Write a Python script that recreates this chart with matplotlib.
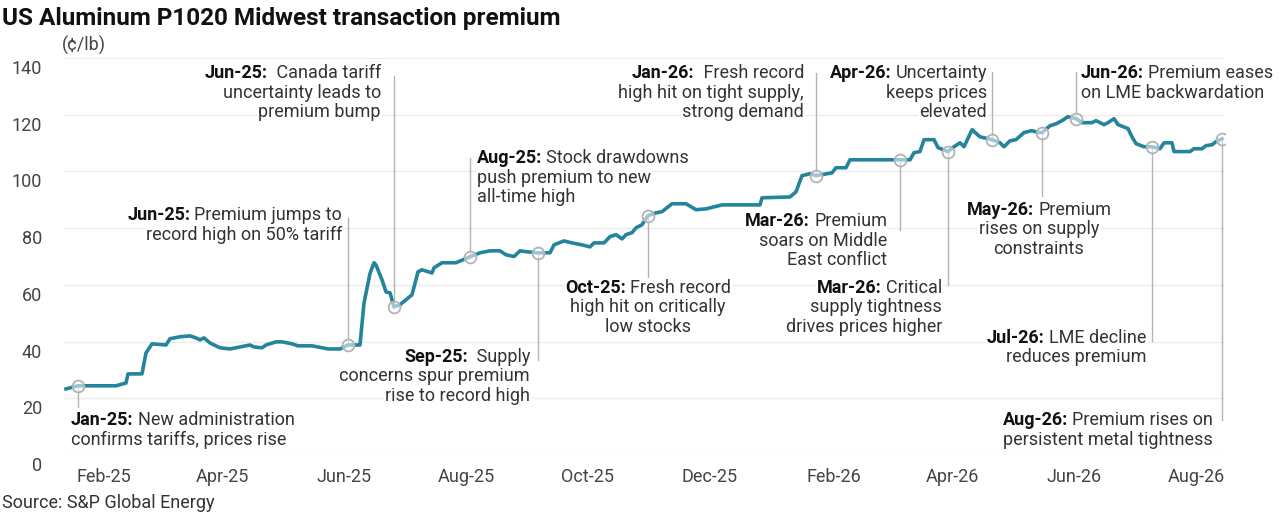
import matplotlib
matplotlib.use("Agg")
import matplotlib.pyplot as plt
import matplotlib.dates as mdates
import matplotlib.transforms as mtransforms
import numpy as np

plt.rcParams['font.family'] = ['Roboto', 'DejaVu Sans']

# weekly-ish premium readings (cents/lb)
dates = ["2025-01-13", "2025-01-19", "2025-02-07", "2025-02-12", "2025-02-13", "2025-02-20",
         "2025-02-22", "2025-02-25", "2025-03-04", "2025-03-06", "2025-03-11", "2025-03-16",
         "2025-03-19", "2025-03-21", "2025-03-23", "2025-03-26", "2025-03-31", "2025-04-05",
         "2025-04-10", "2025-04-15", "2025-04-17", "2025-04-21", "2025-04-23", "2025-04-28",
         "2025-05-01", "2025-05-06", "2025-05-09", "2025-05-16", "2025-05-19", "2025-05-24",
         "2025-05-30", "2025-06-03", "2025-06-09", "2025-06-11", "2025-06-14", "2025-06-16",
         "2025-06-17", "2025-06-20", "2025-06-22", "2025-06-24", "2025-06-26", "2025-06-29",
         "2025-07-05", "2025-07-08", "2025-07-10", "2025-07-15", "2025-07-16", "2025-07-20",
         "2025-07-27", "2025-08-03", "2025-08-08", "2025-08-13", "2025-08-18", "2025-08-21",
         "2025-08-25", "2025-08-28", "2025-08-31", "2025-09-06", "2025-09-12", "2025-09-14",
         "2025-09-19", "2025-09-23", "2025-09-28", "2025-10-02", "2025-10-04", "2025-10-09",
         "2025-10-12", "2025-10-15", "2025-10-18", "2025-10-20", "2025-10-23", "2025-10-25",
         "2025-10-28", "2025-10-31", "2025-11-04", "2025-11-07", "2025-11-12", "2025-11-19",
         "2025-11-24", "2025-11-29", "2025-12-07", "2025-12-26", "2025-12-27", "2026-01-10",
         "2026-01-13", "2026-01-16", "2026-01-20", "2026-01-23", "2026-01-31", "2026-02-02",
         "2026-02-07", "2026-02-09", "2026-03-06", "2026-03-11", "2026-03-13", "2026-03-16",
         "2026-03-18", "2026-03-23", "2026-03-25", "2026-03-30", "2026-04-02", "2026-04-05",
         "2026-04-07", "2026-04-11", "2026-04-15", "2026-04-21", "2026-04-25", "2026-04-27",
         "2026-04-30", "2026-05-03", "2026-05-07", "2026-05-11", "2026-05-14", "2026-05-16",
         "2026-05-20", "2026-05-23", "2026-05-26", "2026-05-29", "2026-06-02", "2026-06-05",
         "2026-06-10", "2026-06-12", "2026-06-16", "2026-06-18", "2026-06-21", "2026-06-23",
         "2026-06-28", "2026-06-30", "2026-07-02", "2026-07-06", "2026-07-10", "2026-07-14",
         "2026-07-16", "2026-07-20", "2026-07-21", "2026-07-29", "2026-07-31", "2026-08-04",
         "2026-08-06", "2026-08-09", "2026-08-11", "2026-08-14"]
premium = [23.3, 24.4, 24.4, 25.4, 28.6, 28.6, 36.0, 39.2, 38.8, 41.0, 41.7, 42.0,
           41.3, 40.6, 41.3, 39.5, 37.8, 37.4, 38.1, 38.8, 38.1, 37.8, 38.8, 39.9,
           39.9, 39.2, 38.5, 38.5, 38.1, 37.4, 37.4, 38.8, 38.8, 53.6, 64.0, 67.8,
           67.0, 61.8, 57.5, 57.2, 52.2, 53.0, 56.5, 64.6, 65.3, 64.2, 66.0, 67.8,
           67.8, 69.9, 71.3, 72.0, 72.0, 70.6, 70.0, 72.0, 71.7, 71.3, 71.3, 74.1,
           75.5, 74.8, 74.1, 73.4, 74.8, 74.8, 77.0, 77.7, 76.2, 77.7, 78.4, 80.1,
           81.2, 84.4, 85.4, 85.8, 88.6, 88.6, 86.5, 86.8, 88.2, 88.2, 90.7, 91.0,
           92.8, 98.5, 99.2, 98.5, 99.5, 101.3, 101.3, 104.1, 104.1, 104.1, 106.6, 107.0,
           111.2, 111.2, 108.4, 107.0, 108.7, 110.1, 108.7, 114.7, 112.2, 111.2, 110.1, 108.7,
           110.8, 111.2, 113.7, 114.4, 113.7, 113.7, 116.1, 116.8, 117.9, 119.3, 118.6, 117.2,
           117.2, 117.9, 116.5, 117.2, 118.6, 116.5, 115.1, 112.2, 109.8, 108.7, 108.7, 108.0,
           110.1, 110.1, 107.0, 107.0, 108.0, 108.0, 109.1, 109.4, 110.5, 111.5]
assert len(dates) == len(premium)

# annotated events
event_dates = ["2025-01-19", "2025-06-03", "2025-06-26", "2025-08-03", "2025-09-06",
               "2025-10-31", "2026-01-23", "2026-03-06", "2026-03-30", "2026-04-21",
               "2026-05-16", "2026-06-02", "2026-07-10", "2026-08-14"]
event_tags = ["Jan-25:", "Jun-25:", "Jun-25:", "Aug-25:", "Sep-25:", "Oct-25:", "Jan-26:",
              "Mar-26:", "Mar-26:", "Apr-26:", "May-26:", "Jun-26:", "Jul-26:", "Aug-26:"]
event_text = [
    ["New administration", "confirms tariffs, prices rise"],
    ["Premium jumps to", "record high on 50% tariff"],
    [" Canada tariff", "uncertainty leads to", "premium bump"],
    ["Stock drawdowns", "push premium to new", "all-time high"],
    [" Supply", "concerns spur premium", "rise to record high"],
    ["Fresh record", "high hit on critically", "low stocks"],
    [" Fresh record", "high hit on tight supply,", "strong demand"],
    ["Premium", "soars on Middle", "East conflict"],
    ["Critical", "supply tightness", "drives prices higher"],
    ["Uncertainty", "keeps prices", "elevated"],
    ["Premium", "rises on supply", "constraints"],
    ["Premium eases", "on LME backwardation"],
    ["LME decline", "reduces premium"],
    ["Premium rises on", "persistent metal tightness"],
]

# note layout: (x offset in px from marker, first line y in data units, alignment, leader end)
note_layout = [
    (-7, 12.3, "left", 16.9),
    (-6, 84.6, "right", 83.6),
    (-13, 134.7, "right", 133.7),
    (7, 104.7, "left", 104.7),
    (-8, 34.6, "right", 33.5),
    (0, 58.9, "center", 61.4),
    (-12, 134.7, "right", 134.7),
    (-13, 82.5, "right", 79.3),
    (-6, 58.9, "right", 60.0),
    (-5, 134.7, "right", 135.0),
    (-3, 86.4, "center", 91.3),
    (5, 134.7, "left", 135.0),
    (-6, 41.3, "right", 40.2),
    (-9, 12.3, "right", 12.3),
]

line_color = "#23849c"
grey = "#b3b3b3"
txt_color = "#333333"
fs = 13

x = mdates.datestr2num(dates)
y = np.array(premium)
ex = mdates.datestr2num(event_dates)
ey = np.interp(ex, x, y)

fig = plt.figure(figsize=(12.8, 5.23), dpi=100)
ax = fig.add_axes([63 / 1280, 68 / 523, 1162 / 1280, 397 / 523])

ax.plot(x, y, color=line_color, lw=2.6, zorder=3, solid_joinstyle="round")

for xi, yi, lay in zip(ex, ey, note_layout):
    ax.plot([xi, xi], [yi, lay[3]], color=grey, lw=1, zorder=2)

ax.plot(ex, ey, "o", ms=8.5, mfc=(1, 1, 1, 0.55), mec=grey, mew=1.3, zorder=4)

feb1 = mdates.datestr2num("2025-02-01")
ax.set_xlim(feb1 - 20.5, mdates.datestr2num("2026-08-01") + 14.5)
ax.set_ylim(0, 140)
ax.set_yticks(np.arange(0, 141, 20))
ax.xaxis.set_major_locator(mdates.MonthLocator(bymonth=[2, 4, 6, 8, 10, 12]))
ax.xaxis.set_major_formatter(mdates.DateFormatter("%b-%y"))
ax.tick_params(length=0, labelsize=fs, labelcolor="#444444")
ax.tick_params(axis="x", pad=9)
ax.tick_params(axis="y", pad=15)
ax.grid(axis="y", color="#ececec", lw=1)
ax.set_axisbelow(True)
for s in ax.spines.values():
    s.set_visible(False)

fig.canvas.draw()
renderer = fig.canvas.get_renderer()
box = dict(facecolor="white", edgecolor="none", pad=1.0)
line_gap = 19.5
space = 4

for xi, tag, lines, lay in zip(ex, event_tags, event_text, note_layout):
    dx, ty, ha, _ = lay
    # first line: bold tag + regular text
    tb = ax.text(xi, ty, tag, fontsize=fs, fontweight="bold", color="#111111",
                 va="center", ha="left", zorder=5, bbox=box)
    tn = ax.text(xi, ty, lines[0], fontsize=fs, color=txt_color,
                 va="center", ha="left", zorder=5, bbox=box)
    wb = tb.get_window_extent(renderer).width
    wn = tn.get_window_extent(renderer).width
    total = wb + space + wn
    if ha == "left":
        start = 0
    elif ha == "right":
        start = -total
    else:
        start = -total / 2
    tb.set_transform(mtransforms.offset_copy(ax.transData, fig=fig, x=dx + start, y=0, units="dots"))
    tn.set_transform(mtransforms.offset_copy(ax.transData, fig=fig, x=dx + start + wb + space, y=0, units="dots"))
    for i, ln in enumerate(lines[1:], start=1):
        tr = mtransforms.offset_copy(ax.transData, fig=fig, x=dx, y=-i * line_gap, units="dots")
        ax.text(xi, ty, ln, fontsize=fs, color=txt_color, va="center", ha=ha,
                transform=tr, zorder=5, bbox=box)

# y labels sit a little below their gridlines
shift = mtransforms.ScaledTranslation(0, -9 / 100, fig.dpi_scale_trans)
for lab in ax.get_yticklabels():
    lab.set_transform(lab.get_transform() + shift)

fig.text(2 / 1280, 1 - 18 / 523, "US Aluminum P1020 Midwest transaction premium",
         fontsize=17.5, fontweight="bold", color="#111111", va="center", ha="left")
fig.text(62 / 1280, 1 - 45 / 523, "(¢/lb)", fontsize=fs, color="#444444",
         va="center", ha="left")
fig.text(2 / 1280, 1 - 503 / 523, "Source: S&P Global Energy", fontsize=fs,
         color=txt_color, va="center", ha="left")

fig.savefig("out.png", dpi=100)
